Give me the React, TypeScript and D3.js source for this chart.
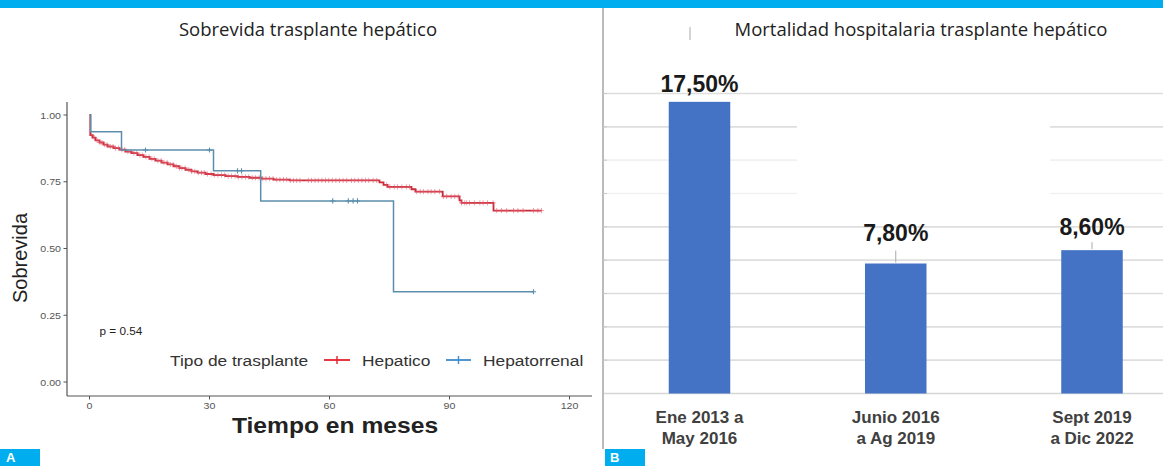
import React from "react";
import * as d3 from "d3";

const W = 1163;
const H = 466;

// ---- Panel A: Kaplan-Meier survival ----
const hepTimes = [0, 0.2, 0.8, 1.5, 2.5, 3.5, 4.5, 6, 7.5, 9, 10.5, 12, 13.5, 15, 16.5, 18, 19.5, 21, 22.5, 24, 25.5, 27, 29, 31, 34, 37, 40, 43, 46, 50, 72.5, 73.5, 74.5, 80.5, 81.5, 88.3, 92.5, 93, 101];
const hepSurv = [1, 0.925, 0.915, 0.905, 0.897, 0.889, 0.882, 0.876, 0.87, 0.863, 0.857, 0.85, 0.843, 0.836, 0.829, 0.822, 0.815, 0.808, 0.801, 0.795, 0.789, 0.784, 0.779, 0.775, 0.771, 0.768, 0.765, 0.762, 0.758, 0.755, 0.748, 0.738, 0.731, 0.722, 0.713, 0.695, 0.68, 0.671, 0.642];
const hepEnd = 113;
const hepCensor = [0.5, 1.2, 1.9, 2.6, 3.1, 3.8, 4.4, 5.2, 5.9, 6.5, 7.3, 8.1, 8.8, 9.6, 10.3, 11.1, 11.8, 12.6, 13.2, 14.1, 14.9, 15.6, 16.2, 17.1, 17.9, 18.6, 19.4, 20.2, 20.9, 21.7, 22.5, 23.1, 23.9, 24.8, 25.5, 26.3, 27.2, 28.0, 28.7, 29.5, 30.4, 31.2, 32.1, 33.0, 33.8, 34.7, 35.5, 36.4, 37.2, 38.1, 39.0, 39.8, 40.7, 41.5, 42.4, 43.3, 44.1, 45.0, 45.9, 46.8, 47.6, 48.5, 49.3, 50.2, 51.0, 51.8, 52.6, 54.7, 55.5, 56.4, 57.2, 58.1, 59.0, 59.8, 60.7, 61.6, 62.5, 63.4, 64.3, 65.5, 66.3, 67.2, 68.1, 69.0, 69.8, 70.9, 71.8, 74.3, 75.1, 76.2, 77.0, 78.1, 79.2, 80.0, 81.8, 82.7, 83.5, 84.6, 85.4, 86.3, 87.5, 88.5, 89.3, 90.4, 91.3, 92.2, 93.0, 93.8, 94.3, 95.0, 96.2, 97.6, 98.4, 99.5, 100.9, 101.8, 103.0, 104.3, 106.0, 107.1, 108.4, 111.0, 112.1, 113.0];

const hrTimes = [0, 0.3, 8, 31, 42.8, 76];
const hrSurv = [1, 0.937, 0.869, 0.791, 0.678, 0.338];
const hrEnd = 111;
const hrCensor = [14, 30, 37, 38, 60.8, 64.7, 65.9, 67, 111];

const kmXTicks = [0, 30, 60, 90, 120];
const kmYTicks = [0, 0.25, 0.5, 0.75, 1];

// ---- Panel B: mortalidad hospitalaria ----
const periods = [["Ene 2013 a", "May 2016"], ["Junio 2016", "a Ag 2019"], ["Sept 2019", "a Dic 2022"]];
const mortality = [17.5, 7.8, 8.6];
const mortalityLabels = ["17,50%", "7,80%", "8,60%"];
const gridValues = [2, 4, 6, 8, 10, 12, 14, 16, 18];

const labelLift = [10, 23, 15];
const leaderLen = [0, 13, 8];

const CYAN = "#00aeef";
const RED = "#c92a35";
const BLUE = "#5b8eac";

function survAt(times: number[], surv: number[], t: number) {
  let s = surv[0];
  for (let i = 0; i < times.length; i++) if (times[i] <= t) s = surv[i];
  return s;
}

// left image is slightly stretched horizontally
const SX = 1.12;
const SText = ({ x, y, anchor = "start", size, weight = "normal", fill = "#333", children }: any) => (
  <text
    transform={`translate(${x},${y}) scale(${SX},1)`}
    textAnchor={anchor}
    fontSize={size}
    fontWeight={weight}
    fill={fill}
    fontFamily="Liberation Sans, Arial, sans-serif"
  >
    {children}
  </text>
);

export default function App() {
  const x = d3.scaleLinear().domain([0, 120]).range([89.5, 569.5]);
  const y = d3.scaleLinear().domain([0, 1]).range([382, 115]);

  const step = d3
    .line<[number, number]>()
    .x((d) => x(d[0]))
    .y((d) => y(d[1]))
    .curve(d3.curveStepAfter);

  const hepPts: [number, number][] = hepTimes.map((t, i) => [t, hepSurv[i]]);
  hepPts.push([hepEnd, hepSurv[hepSurv.length - 1]]);
  const hrPts: [number, number][] = hrTimes.map((t, i) => [t, hrSurv[i]]);
  hrPts.push([hrEnd, hrSurv[hrSurv.length - 1]]);

  const plus = (cx: number, cy: number, r: number) =>
    `M${cx - r},${cy}H${cx + r}M${cx},${cy - r}V${cy + r}`;

  const hepMarks = hepCensor.map((t) => plus(x(t), y(survAt(hepTimes, hepSurv, t)), 2.6)).join("");
  const hrMarks = hrCensor.map((t) => plus(x(t), y(survAt(hrTimes, hrSurv, t)), 2.6)).join("");

  // bar chart scales
  const keys = periods.map((p) => p.join(" "));
  const xb = d3.scalePoint<string>().domain(keys).range([699.5, 1092]);
  const yb = d3.scaleLinear().domain([0, 18]).range([393.5, 93.5]);
  const barW = 61.5;

  return (
    <svg
      width={W}
      height={H}
      viewBox={`0 0 ${W} ${H}`}
      style={{ position: "fixed", left: 0, top: 0, background: "#fff" }}
    >
      <rect x={0} y={0} width={W} height={H} fill="#fff" />
      <rect x={0} y={0} width={W} height={8} fill={CYAN} />

      {/* ---------- Panel A ---------- */}
      <text x={308} y={36} textAnchor="middle" fontSize={18.5} fill="#222" fontFamily="Open Sans, sans-serif">
        Sobrevida trasplante hepático
      </text>

      {/* axes */}
      <line x1={67} x2={67} y1={102} y2={396} stroke="#555" strokeWidth={1.2} />
      <line x1={67} x2={592} y1={396} y2={396} stroke="#555" strokeWidth={1.2} />
      {kmYTicks.map((v) => (
        <g key={v}>
          <line x1={63.5} x2={67} y1={y(v)} y2={y(v)} stroke="#555" strokeWidth={1} />
          <SText x={61} y={y(v) + 3.5} anchor="end" size={9.5} fill="#555">
            {d3.format(".2f")(v)}
          </SText>
        </g>
      ))}
      {kmXTicks.map((v) => (
        <g key={v}>
          <line x1={x(v)} x2={x(v)} y1={396} y2={399.5} stroke="#555" strokeWidth={1} />
          <SText x={x(v)} y={408.5} anchor="middle" size={9.5} fill="#555">
            {v}
          </SText>
        </g>
      ))}
      <text
        transform="translate(27,258) rotate(-90)"
        textAnchor="middle"
        fontSize={20}
        fill="#222"
        fontFamily="Liberation Sans, Arial, sans-serif"
      >
        Sobrevida
      </text>
      <SText x={335} y={433} anchor="middle" size={22} weight="bold" fill="#222">
        Tiempo en meses
      </SText>

      {/* curves */}
      <path d={step(hepPts) || ""} fill="none" stroke={RED} strokeWidth={1.8} />
      <path d={hepMarks} fill="none" stroke="#e0566a" strokeWidth={1} opacity={0.55} />
      <path d={step(hrPts) || ""} fill="none" stroke={BLUE} strokeWidth={1.5} />
      <path d={hrMarks} fill="none" stroke={BLUE} strokeWidth={1.1} />

      <SText x={99.5} y={335} size={10.5} fill="#222">
        p = 0.54
      </SText>

      {/* legend */}
      <SText x={170} y={365.5} size={15.5} fill="#333">
        Tipo de trasplante
      </SText>
      <line x1={324} x2={350} y1={360} y2={360} stroke="#e3222c" strokeWidth={1.8} />
      <line x1={337} x2={337} y1={356} y2={364} stroke="#e3222c" strokeWidth={1.4} />
      <SText x={362} y={365.5} size={15.5} fill="#333">
        Hepatico
      </SText>
      <line x1={446} x2={471} y1={360} y2={360} stroke="#3d8ccc" strokeWidth={1.8} />
      <line x1={458.5} x2={458.5} y1={356} y2={364} stroke="#3d8ccc" strokeWidth={1.4} />
      <SText x={483} y={365.5} size={15.5} fill="#333">
        Hepatorrenal
      </SText>

      <rect x={0} y={449} width={40} height={17} fill={CYAN} />
      <text x={6} y={461.5} fontSize={13} fontWeight="bold" fill="#fff" fontFamily="Liberation Sans, Arial, sans-serif">
        A
      </text>

      {/* ---------- Panel B ---------- */}
      <line x1={603} x2={603} y1={8} y2={449} stroke="#a5a5a5" strokeWidth={1.5} />
      <line x1={690} x2={690} y1={27} y2={40} stroke="#aaa" strokeWidth={1} />
      <text x={921} y={36} textAnchor="middle" fontSize={18.5} fill="#222" fontFamily="Open Sans, sans-serif">
        Mortalidad hospitalaria trasplante hepático
      </text>

      {gridValues.map((v) => (
        <g key={v}>
          <line
            x1={604}
            x2={W}
            y1={yb(v)}
            y2={yb(v)}
            stroke={v === 12 || v === 14 ? "#f1f1f1" : "#dedede"}
            strokeWidth={1.6}
          />
          <line x1={603} x2={607} y1={yb(v)} y2={yb(v)} stroke="#c8c8c8" strokeWidth={1} />
        </g>
      ))}
      {/* white patch covering part of the grid, as in the source */}
      <rect x={797} y={112} width={253} height={95} fill="#fff" />
      <line x1={604} x2={W} y1={yb(0)} y2={yb(0)} stroke="#d6d6d6" strokeWidth={1.6} />

      {mortality.map((v, i) => {
        const cx = xb(keys[i]) as number;
        const top = yb(v);
        return (
          <g key={i}>
            <rect x={cx - barW / 2} y={top} width={barW} height={yb(0) - top} fill="#4472c4" />
            {leaderLen[i] > 0 && (
              <line x1={cx} x2={cx} y1={top - leaderLen[i]} y2={top - 1} stroke="#aaa" strokeWidth={1} />
            )}
            <text
              x={cx}
              y={top - labelLift[i]}
              textAnchor="middle"
              fontSize={23}
              fontWeight="bold"
              fill="#1a1a1a"
              fontFamily="Liberation Sans, Arial, sans-serif"
            >
              {mortalityLabels[i]}
            </text>
            {periods[i].map((line, j) => (
              <text
                key={j}
                x={cx}
                y={422.5 + j * 21.6}
                textAnchor="middle"
                fontSize={17}
                fontWeight="bold"
                fill="#404040"
                fontFamily="Liberation Sans, Arial, sans-serif"
              >
                {line}
              </text>
            ))}
          </g>
        );
      })}

      <rect x={605} y={449} width={40} height={17} fill={CYAN} />
      <text x={610} y={461.5} fontSize={13} fontWeight="bold" fill="#fff" fontFamily="Liberation Sans, Arial, sans-serif">
        B
      </text>
    </svg>
  );
}
